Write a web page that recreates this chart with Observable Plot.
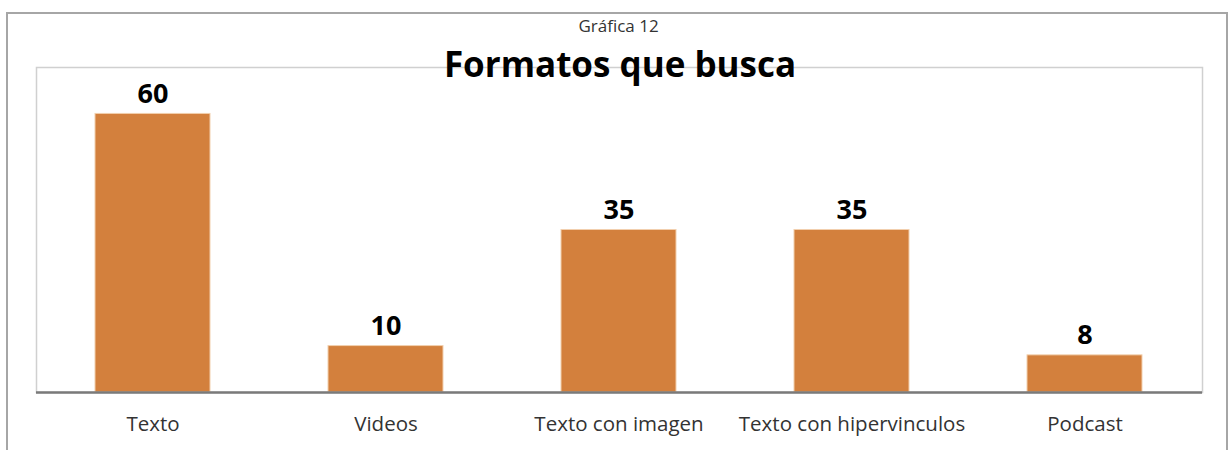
<!DOCTYPE html>
<html>
<head>
<meta charset="utf-8">
<script src="https://cdn.jsdelivr.net/npm/d3@7"></script>
<script src="https://cdn.jsdelivr.net/npm/@observablehq/plot@0.6"></script>
<style>
  html, body { margin: 0; padding: 0; background: #fff; }
  #wrap { position: relative; width: 1232px; height: 450px; overflow: hidden; font-family: "Open Sans", Lato, sans-serif; }
  #outer { position: absolute; left: 6px; top: 12px; width: 1222px; height: 460px; border: 2px solid #a6a6a6; box-sizing: border-box; }
  #chart { position: absolute; left: 0; top: 0; }
  #supertitle { position: absolute; left: 0; width: 1237px; top: 17px; line-height: 1; text-align: center; font-size: 17px; color: #333; }
  #title { position: absolute; left: 0; width: 1240px; top: 46px; line-height: 1; text-align: center; font-size: 35px; font-weight: bold; color: #000; }
</style>
</head>
<body>
<div id="wrap">
  <div id="outer"></div>
  <div id="chart"></div>
  <div id="supertitle">Gráfica 12</div>
  <div id="title">Formatos que busca</div>
</div>
<script>
const categories = ["Texto", "Videos", "Texto con imagen", "Texto con hipervinculos", "Podcast"];
const values = [60, 10, 35, 35, 8];

const data = categories.map((c, i) => ({category: c, value: values[i]}));

const plot = Plot.plot({
  width: 1232,
  height: 450,
  marginLeft: 36,
  marginRight: 30,
  marginTop: 67,
  marginBottom: 58,
  style: {fontFamily: "'Open Sans', Lato, sans-serif", background: "transparent"},
  x: {domain: categories, paddingInner: 0.505, paddingOuter: 0.2525, label: null},
  y: {domain: [0, 70], axis: null},
  marks: [
    Plot.frame({stroke: "#d0d0d0", strokeWidth: 1.5}),
    Plot.axisX({tickSize: 0, tickPadding: 24, fontSize: 20.5, color: "#333", label: null}),
    Plot.barY(data, {x: "category", y: "value", fill: "#D3803D", stroke: "#f2cfae", strokeWidth: 1}),
    Plot.ruleY([0], {stroke: "#7a7a7a", strokeWidth: 2.5}),
    Plot.text(data, {x: "category", y: "value", text: d => String(d.value), lineAnchor: "bottom", dy: -11, fontSize: 27, fontWeight: "bold", fill: "#000"})
  ]
});
document.getElementById("chart").appendChild(plot);
</script>
</body>
</html>
